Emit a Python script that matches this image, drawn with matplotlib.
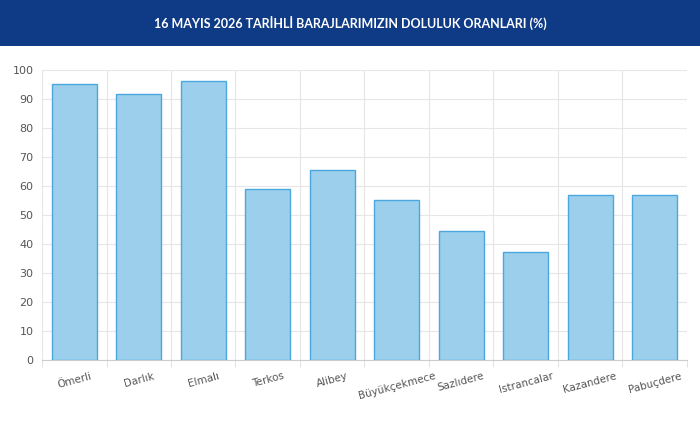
import matplotlib.pyplot as plt
import numpy as np

categories = ["Ömerli", "Darlık", "Elmalı", "Terkos", "Alibey", "Büyükçekmece",
              "Sazlıdere", "Istrancalar", "Kazandere", "Pabuçdere"]
values = [95.2, 91.7, 96.2, 59.0, 65.5, 55.2, 44.5, 37.2, 56.9, 56.9]
yticks = list(range(0, 101, 10))

plt.rcParams['font.family'] = ['DejaVu Sans']
fig = plt.figure(figsize=(7, 4.32), dpi=100)
fig.patch.set_facecolor('white')
# title bar
bar = fig.add_axes([0, 1 - 46/432, 1, 46/432])
bar.set_facecolor('#0f3a85')
bar.set_xticks([]); bar.set_yticks([])
for s in bar.spines.values():
    s.set_visible(False)
bar.text(0.5, 0.5, "16 MAYIS 2026 TARİHLİ BARAJLARIMIZIN DOLULUK ORANLARI (%)",
         color='white', ha='center', va='center', fontsize=9, fontweight='bold',
         family='Lato')

ax = fig.add_axes([42/700, 1 - 360/432, (687-42)/700, 290/432])
x = np.arange(len(categories))
ax.bar(x, values, width=0.7, color='#9ccfec', edgecolor='#4aa8df', linewidth=1, zorder=3)
ax.set_xlim(-0.5, len(categories) - 0.5)
ax.set_ylim(0, 100)
ax.set_yticks(yticks)
ax.set_yticklabels([str(t) for t in yticks], fontsize=8, color='#555555')
ax.set_xticks(x)
ax.set_xticklabels(categories, rotation=15, fontsize=7.5, color='#555555', ha='center')
ax.set_xticks(np.arange(-0.5, len(categories)), minor=True)
ax.tick_params(axis='x', which='major', length=0, pad=8)
ax.tick_params(axis='x', which='minor', length=5, color='#dddddd')
ax.tick_params(axis='y', length=0, pad=6)
ax.grid(axis='y', color='#e6e6e6', linewidth=0.8, zorder=0)
ax.grid(axis='x', which='minor', color='#e6e6e6', linewidth=0.8, zorder=0)
for s in ['top', 'right', 'left']:
    ax.spines[s].set_visible(False)
ax.spines['bottom'].set_color('#cccccc')
fig.savefig('out.png', dpi=100)
